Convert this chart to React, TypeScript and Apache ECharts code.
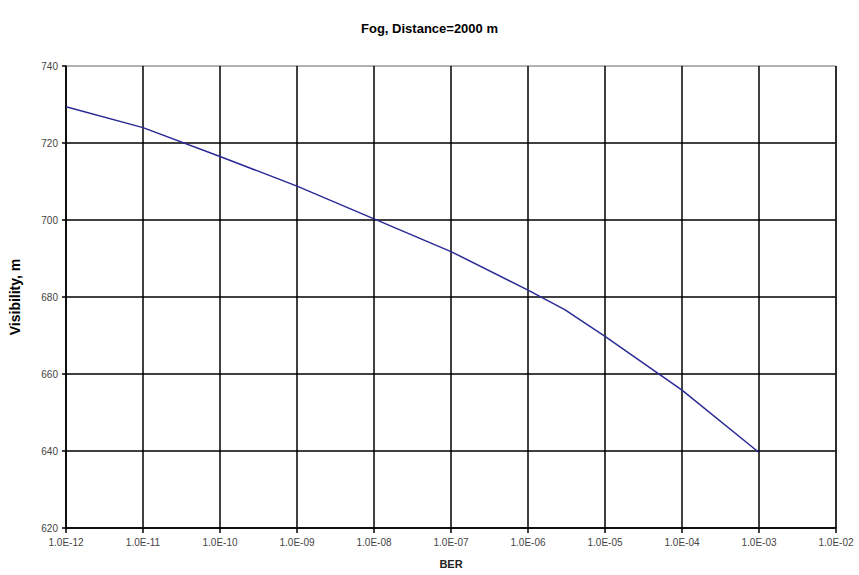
import React, { useEffect, useRef } from "react";
import * as echarts from "echarts";

const titleText = "Fog, Distance=2000 m";
const xName = "BER";
const yName = "Visibility, m";
const berValues = [1e-12, 1e-11, 1e-10, 1e-9, 1e-8, 1e-7, 1e-6, 3e-6, 1e-5, 1e-4, 1e-3];
const visibility = [729.4, 724.0, 716.5, 708.8, 700.3, 691.8, 681.8, 676.7, 669.8, 655.8, 639.6];
const yMin = 620;
const yMax = 740;
const yStep = 20;
const xMin = 1e-12;
const xMax = 1e-2;

function fmtBer(v: number): string {
  const e = Math.round(Math.log10(v));
  const sign = e < 0 ? "-" : "+";
  return "1.0E" + sign + String(Math.abs(e)).padStart(2, "0");
}

export default function App() {
  const ref = useRef<HTMLDivElement>(null);
  useEffect(() => {
    if (!ref.current) return;
    const chart = echarts.init(ref.current, undefined, { renderer: "svg" });
    const ySplitColors = [];
    for (let v = yMin; v <= yMax; v += yStep) ySplitColors.push(v === yMax ? "#9a9a9a" : "#000");
    const xSplitColors = [];
    for (let i = 0; i <= 10; i++) xSplitColors.push(i === 10 ? "#9a9a9a" : "#000");
    chart.setOption({
      animation: false,
      backgroundColor: "#fff",
      title: {
        text: titleText,
        left: "center",
        top: 17,
        textStyle: { fontFamily: "Liberation Sans, Arial, sans-serif", fontSize: 13, fontWeight: "bold", color: "#000" },
      },
      grid: { left: 64, right: 23, top: 66, bottom: 47, containLabel: false },
      xAxis: {
        type: "log",
        logBase: 10,
        min: xMin,
        max: xMax,
        splitNumber: 10,
        name: xName,
        nameLocation: "middle",
        nameGap: 30,
        nameTextStyle: { fontFamily: "Liberation Sans, Arial, sans-serif", fontSize: 11, fontWeight: "bold", color: "#222" },
        axisLine: { show: true, lineStyle: { color: "#000", width: 1.5 } },
        axisTick: { show: true, length: 5, lineStyle: { color: "#000", width: 1.5 } },
        minorTick: { show: false },
        axisLabel: {
          formatter: (v: number) => fmtBer(v),
          fontFamily: "Liberation Sans, Arial, sans-serif",
          fontSize: 10,
          color: "#444",
          margin: 9,
          showMaxLabel: true,
        },
        splitLine: { show: true, lineStyle: { color: xSplitColors, width: 1.5 } },
      },
      yAxis: {
        type: "value",
        min: yMin,
        max: yMax,
        interval: yStep,
        name: yName,
        nameLocation: "middle",
        nameRotate: 90,
        nameGap: 44,
        nameTextStyle: { fontFamily: "Liberation Sans, Arial, sans-serif", fontSize: 14, fontWeight: "bold", color: "#000" },
        axisLine: { show: true, lineStyle: { color: "#000", width: 1.5 } },
        axisTick: { show: true, length: 4, lineStyle: { color: "#000", width: 1.5 } },
        axisLabel: { fontFamily: "Liberation Sans, Arial, sans-serif", fontSize: 10, color: "#444", margin: 8 },
        splitLine: { show: true, lineStyle: { color: ySplitColors, width: 1.5 } },
      },
      series: [
        {
          type: "line",
          data: berValues.map((b, i) => [b, visibility[i]]),
          showSymbol: false,
          symbol: "none",
          lineStyle: { color: "#2a2a96", width: 1.5 },
        },
      ],
    });
    return () => chart.dispose();
  }, []);
  return <div ref={ref} style={{ position: "absolute", left: 0, top: 0, width: 859, height: 575 }} />;
}
